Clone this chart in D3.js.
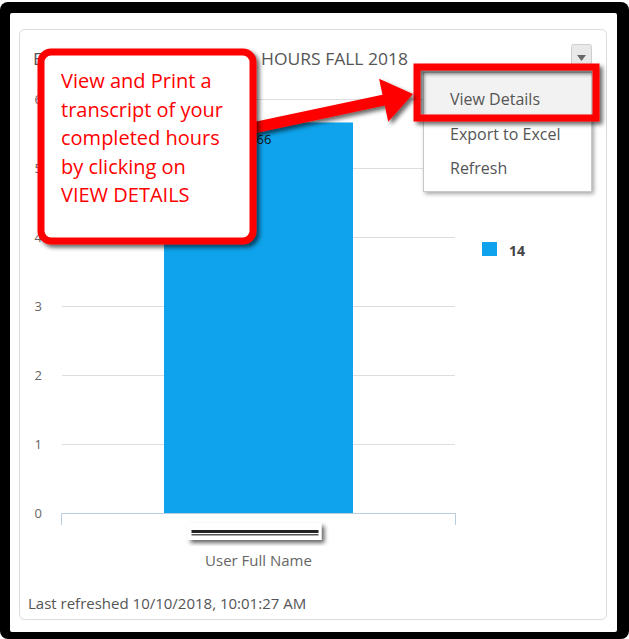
<!DOCTYPE html>
<html><head><meta charset="utf-8">
<script src="https://cdn.jsdelivr.net/npm/d3@7"></script>
<style>body{margin:0;background:#fff;} svg{display:block;font-family:"Open Sans",sans-serif;}</style>
</head><body>
<script>
const categories = ["Student Name"];
const seriesName = "14";
const values = [5.66];
const yTicks = [0, 1, 2, 3, 4, 5, 6];
const title = "ENGAGEMENT COMPLETED HOURS FALL 2018";
const xTitle = "User Full Name";
const footer = "Last refreshed 10/10/2018, 10:01:27 AM";
const menuItems = ["View Details", "Export to Excel", "Refresh"];
const calloutLines = ["View and Print a", "transcript of your", "completed hours", "by clicking on", "VIEW DETAILS"];

const W = 629, H = 639;
const svg = d3.select("body").append("svg").attr("width", W).attr("height", H);
const defs = svg.append("defs");
const f = defs.append("filter").attr("id", "sh").attr("x", "-20%").attr("y", "-20%").attr("width", "150%").attr("height", "150%");
f.append("feDropShadow").attr("dx", 3).attr("dy", 3).attr("stdDeviation", 2).attr("flood-color", "#000").attr("flood-opacity", 0.6);
const f2 = defs.append("filter").attr("id", "sh2").attr("x", "-20%").attr("y", "-20%").attr("width", "150%").attr("height", "150%");
f2.append("feDropShadow").attr("dx", 2).attr("dy", 2).attr("stdDeviation", 2).attr("flood-color", "#000").attr("flood-opacity", 0.35);

// outer black frame
svg.append("rect").attr("x", 0).attr("y", 2).attr("width", W).attr("height", H - 2).attr("rx", 8).attr("fill", "#000");
svg.append("rect").attr("x", 10).attr("y", 13).attr("width", 607).attr("height", 619).attr("rx", 2).attr("fill", "#fff");
// card
svg.append("rect").attr("x", 19.5).attr("y", 29.5).attr("width", 587).attr("height", 590).attr("rx", 5)
  .attr("fill", "#fff").attr("stroke", "#dcdcdc");

// title
svg.append("text").attr("x", 33).attr("y", 65).attr("fill", "#555").attr("font-size", 16)
  .attr("textLength", 375).attr("lengthAdjust", "spacingAndGlyphs").text(title);

// dropdown button
svg.append("rect").attr("x", 571.5).attr("y", 44.5).attr("width", 20).attr("height", 23).attr("rx", 2)
  .attr("fill", "#e9e9e9").attr("stroke", "#cfcfcf");
svg.append("path").attr("d", "M577,55 L586,55 L581.5,61 Z").attr("fill", "#666");

// scales
const y = d3.scaleLinear().domain([0, 6]).range([513, 99]);
const x = d3.scaleBand().domain(categories).range([61, 456]).paddingInner(0.3527).paddingOuter(0.3527);

// gridlines
svg.append("g").selectAll("line").data(yTicks.filter(d => d > 0)).join("line")
  .attr("x1", 62).attr("x2", 455).attr("y1", d => Math.round(y(d)) + 0.5).attr("y2", d => Math.round(y(d)) + 0.5)
  .attr("stroke", "#dedede");

// y axis labels
const ya = svg.append("g").attr("transform", "translate(42,0)")
  .call(d3.axisLeft(y).tickValues(yTicks).tickSize(0).tickPadding(0).tickFormat(d3.format("d")));
ya.select(".domain").remove();
ya.selectAll("text").attr("font-family", "Open Sans, sans-serif").attr("font-size", 13).attr("fill", "#666");

// bars
svg.append("g").selectAll("rect").data(values).join("rect")
  .attr("x", (d, i) => x(categories[i])).attr("width", x.bandwidth())
  .attr("y", d => y(d)).attr("height", d => y(0) - y(d)).attr("fill", "#0ea3ec");
svg.append("g").selectAll("text").data(values).join("text")
  .attr("x", (d, i) => x(categories[i]) + x.bandwidth() / 2).attr("y", d => y(d) + 22)
  .attr("text-anchor", "middle").attr("font-size", 13).attr("fill", "#111").text(d => d.toFixed(2));

// x axis
const xa = svg.append("g").attr("transform", "translate(0,513)")
  .call(d3.axisBottom(x).tickSize(0).tickPadding(16));
xa.select(".domain").attr("stroke", "#b8cde0").attr("d", "M61.5,12V0.5H455.5V12");
xa.selectAll("text").attr("font-family", "Open Sans, sans-serif").attr("font-size", 11).attr("fill", "#444");

// redaction box over category label
const cx = x(categories[0]) + x.bandwidth() / 2;
svg.append("rect").attr("x", cx - 71).attr("y", 523).attr("width", 134).attr("height", 17).attr("fill", "#fff").attr("filter", "url(#sh)");
svg.append("rect").attr("x", cx - 67).attr("y", 530).attr("width", 127).attr("height", 3).attr("fill", "#222");
svg.append("rect").attr("x", cx - 67).attr("y", 534).attr("width", 127).attr("height", 1.5).attr("fill", "#555");

svg.append("text").attr("x", cx).attr("y", 566).attr("text-anchor", "middle").attr("font-size", 15).attr("fill", "#666").text(xTitle);

// legend
svg.append("rect").attr("x", 482).attr("y", 242).attr("width", 15).attr("height", 14).attr("fill", "#0ea3ec");
svg.append("text").attr("x", 509).attr("y", 256).attr("font-size", 14).attr("font-weight", "bold").attr("fill", "#444").text(seriesName);

// footer
svg.append("text").attr("x", 28).attr("y", 609).attr("font-size", 15).attr("fill", "#555").text(footer);

// menu
svg.append("rect").attr("x", 423.5).attr("y", 72.5).attr("width", 168).attr("height", 119).attr("fill", "#fff")
  .attr("stroke", "#c8c8c8").attr("filter", "url(#sh2)");
svg.append("rect").attr("x", 424).attr("y", 73).attr("width", 167).attr("height", 44).attr("fill", "#f2f2f2");
svg.append("g").selectAll("text").data(menuItems).join("text")
  .attr("x", 450).attr("y", (d, i) => 105 + i * 34.5).attr("font-size", 16).attr("fill", "#555").text(d => d);
svg.append("rect").attr("x", 417).attr("y", 67).attr("width", 179).attr("height", 51)
  .attr("fill", "none").attr("stroke", "#f00").attr("stroke-width", 7).attr("filter", "url(#sh)");

// arrow
const S = [248, 129], T = [413, 94];
const dx = T[0] - S[0], dy = T[1] - S[1], L = Math.hypot(dx, dy);
const u = [dx / L, dy / L], n = [-u[1], u[0]];
const hl = 30, hw = 22, sw = 5.5;
const B = [T[0] - hl * u[0], T[1] - hl * u[1]];
const pts = [
  [S[0] + sw * n[0], S[1] + sw * n[1]],
  [B[0] + sw * n[0], B[1] + sw * n[1]],
  [B[0] + hw * n[0], B[1] + hw * n[1]],
  T,
  [B[0] - hw * n[0], B[1] - hw * n[1]],
  [B[0] - sw * n[0], B[1] - sw * n[1]],
  [S[0] - sw * n[0], S[1] - sw * n[1]]
];
svg.append("path").attr("d", "M" + pts.map(p => p.join(",")).join("L") + "Z").attr("fill", "#f00").attr("filter", "url(#sh)");

// callout
svg.append("rect").attr("x", 41).attr("y", 52).attr("width", 212).attr("height", 189).attr("rx", 10)
  .attr("fill", "#fff").attr("stroke", "#f00").attr("stroke-width", 7).attr("filter", "url(#sh)");
svg.append("g").selectAll("text").data(calloutLines).join("text")
  .attr("x", 61).attr("y", (d, i) => 88 + i * 28.6).attr("font-size", 20).attr("fill", "#f00").text(d => d);
</script>
</body></html>
